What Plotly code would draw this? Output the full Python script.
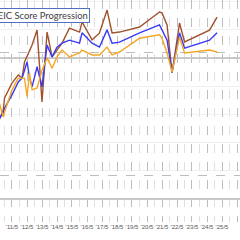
import plotly.graph_objects as go

# Test dates (shared by all series)
dates = ["2010-05-01", "2010-10-01", "2010-11-01", "2011-05-01", "2011-10-01", "2012-01-01",
         "2012-03-01", "2012-05-01", "2012-07-01", "2012-09-01", "2013-01-01", "2013-05-01",
         "2013-09-01", "2014-01-01", "2014-05-01", "2014-09-01", "2015-03-01", "2015-11-01",
         "2016-01-01", "2016-09-01", "2017-03-01", "2017-09-01", "2018-01-01", "2018-07-01",
         "2019-11-01", "2021-03-01", "2021-05-01", "2021-09-01", "2022-01-01", "2022-07-01",
         "2022-11-01", "2024-07-01", "2025-01-01"]

# Total score (primary axis)
total = [262, 316, 358, 411, 440, 429, 486, 504, 528, 546, 599, 344,
         592, 504, 528, 553, 606, 592, 628, 564, 589, 670, 589, 592,
         610, 663, 660, 617, 447, 624, 557, 599, 645]

# Listening score (secondary axis)
listening = [108, 126, 136, 163, 189, 197, 213, 230, 199, 179, 220, 179,
             264, 240, 260, 268, 274, 268, 289, 268, 260, 295, 268, 270,
             289, 305, 295, 274, 209, 289, 258, 274, 289]

# Reading score (secondary axis)
reading = [163, 118, 128, 173, 197, 197, 197, 159, 207, 173, 177, 213,
           238, 217, 240, 254, 240, 248, 254, 244, 244, 260, 244, 250,
           278, 285, 278, 248, 209, 280, 248, 254, 250]

tick_vals = [f"20{y:02d}-05-01" for y in range(11, 27)]
tick_text = [f"'{y:02d}/5" for y in range(11, 27)]

fig = go.Figure()
fig.add_trace(go.Scatter(x=dates, y=total, mode="lines", name="Total",
                         line=dict(color="#A0522D", width=1.4), yaxis="y"))
fig.add_trace(go.Scatter(x=dates, y=listening, mode="lines", name="Listening",
                         line=dict(color="#3A3AF5", width=1.4), yaxis="y2"))
fig.add_trace(go.Scatter(x=dates, y=reading, mode="lines", name="Reading",
                         line=dict(color="#F5A623", width=1.4), yaxis="y2"))

fig.update_layout(
    width=240, height=240,
    margin=dict(l=0, r=0, t=0, b=18),
    paper_bgcolor="white", plot_bgcolor="white",
    showlegend=False,
    xaxis=dict(
        type="date", range=["2010-07-13", "2026-07-13"],
        tickmode="array", tickvals=tick_vals, ticktext=tick_text,
        tickangle=0,
        showgrid=True, gridcolor="#BDBDBD", griddash="dash", gridwidth=1,
        tickfont=dict(size=6, color="#595959", family="Liberation Sans"),
        ticks="", zeroline=False, showline=False,
        minor=dict(showgrid=True, tick0="2010-11-01", dtick="M12",
                   gridcolor="#E0E0E0", gridwidth=1),
    ),
    yaxis=dict(
        range=[-81.6, 705.7], tick0=0, dtick=500,
        showgrid=True, gridcolor="#C8C8C8", gridwidth=1.5,
        showticklabels=False, zeroline=False, ticks="",
        minor=dict(showgrid=True, dtick=100, gridcolor="#F0F0F0", gridwidth=1),
    ),
    yaxis2=dict(
        range=[-95.5, 355.7], tick0=0, dtick=250, overlaying="y", side="right",
        showgrid=True, gridcolor="#BDBDBD", griddash="dash", gridwidth=1,
        showticklabels=False, zeroline=False, ticks="",
    ),
    annotations=[dict(
        text="TOEIC Score Progression", xref="paper", yref="paper",
        x=90 / 240, y=1 - 8 / 222, xanchor="right", yanchor="top",
        showarrow=False, bgcolor="white", bordercolor="#4F6FC0", borderwidth=1,
        borderpad=1,
        font=dict(size=9.4, color="#404040", family="Lato"),
    )],
)

fig.write_html("out.html")
